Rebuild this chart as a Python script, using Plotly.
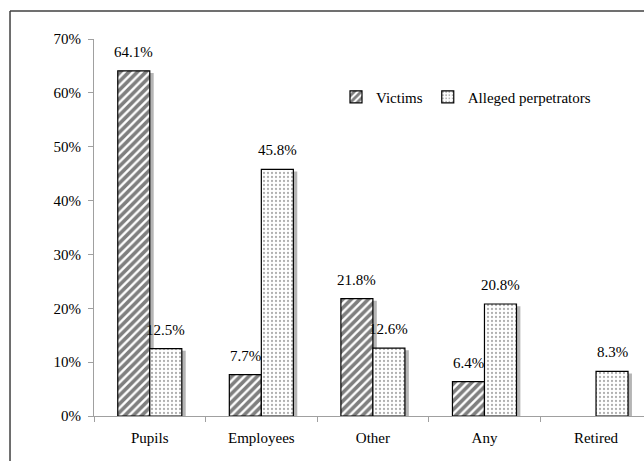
import plotly.graph_objects as go

categories = ["Pupils", "Employees", "Other", "Any", "Retired"]
victims = [0.641, 0.077, 0.218, 0.064, None]
perpetrators = [0.125, 0.458, 0.126, 0.208, 0.083]
y_ticks = [0, 0.1, 0.2, 0.3, 0.4, 0.5, 0.6, 0.7]

FONT = "Liberation Serif"
FS = 15
BW = 0.287          # bar width in category units
SH = 0.035          # shadow offset in category units

fig = go.Figure()

# soft drop shadows behind the bars
for vals, off in ((victims, -BW), (perpetrators, 0)):
    fig.add_trace(go.Bar(
        x=categories, y=[None if v is None else v - 0.004 for v in vals],
        offset=off + SH, width=BW, showlegend=False, hoverinfo="skip",
        marker=dict(color="rgba(90,90,90,0.45)", line=dict(width=0)),
    ))

fig.add_trace(go.Bar(
    x=categories, y=victims, name="Victims", offset=-BW, width=BW,
    marker=dict(color="white", line=dict(color="black", width=1.2),
                pattern=dict(shape="/", fgcolor="black", bgcolor="white", size=6, solidity=0.6)),
))
fig.add_trace(go.Bar(
    x=categories, y=perpetrators, name="Alleged perpetrators", offset=0, width=BW,
    marker=dict(color="white", line=dict(color="black", width=1.2),
                pattern=dict(shape=".", fgcolor="#606060", bgcolor="white", size=4, solidity=0.25)),
))

# value labels
annotations = []
for vals, xs in ((victims, -16), (perpetrators, 16)):
    for c, v in zip(categories, vals):
        if v is None:
            continue
        annotations.append(dict(
            x=c, y=v, xref="x", yref="y", text=f"{v*100:.1f}%", showarrow=False,
            xanchor="center", yanchor="bottom", xshift=xs, yshift=9,
            font=dict(family=FONT, size=FS, color="black"),
        ))

fig.update_layout(
    width=644, height=461,
    margin=dict(l=94, r=0, t=39, b=45),
    paper_bgcolor="white", plot_bgcolor="white",
    font=dict(family=FONT, size=FS, color="black"),
    barmode="overlay",
    annotations=annotations,
    legend=dict(orientation="h", x=0.44, y=0.846, xanchor="left", yanchor="middle",
                font=dict(family=FONT, size=FS, color="black"),
                itemwidth=30, bgcolor="rgba(0,0,0,0)"),
)
fig.update_xaxes(
    range=[-0.5, 4.43], showline=True, linecolor="#a0a0a0", linewidth=1,
    ticks="outside", tickson="boundaries", ticklen=5, tickcolor="#a0a0a0",
    ticklabelstandoff=8, showgrid=False,
    tickfont=dict(family=FONT, size=FS, color="black"),
)
fig.update_yaxes(
    range=[0, 0.7], tickvals=y_ticks, tickformat=".0%",
    showline=True, linecolor="#a0a0a0", linewidth=1,
    ticks="outside", ticklen=5, tickcolor="#a0a0a0", showgrid=False, zeroline=False,
    ticklabelstandoff=4,
    tickfont=dict(family=FONT, size=FS, color="black"),
)

# outer chart border (top and left visible)
fig.add_shape(type="line", xref="paper", yref="paper",
              x0=-0.1527, x1=1.1, y0=1.0743, y1=1.0743,
              line=dict(color="#404040", width=1.5))
fig.add_shape(type="line", xref="paper", yref="paper",
              x0=-0.1527, x1=-0.1527, y0=1.0743, y1=-0.2,
              line=dict(color="#404040", width=1.5))

fig.write_html("out.html")
